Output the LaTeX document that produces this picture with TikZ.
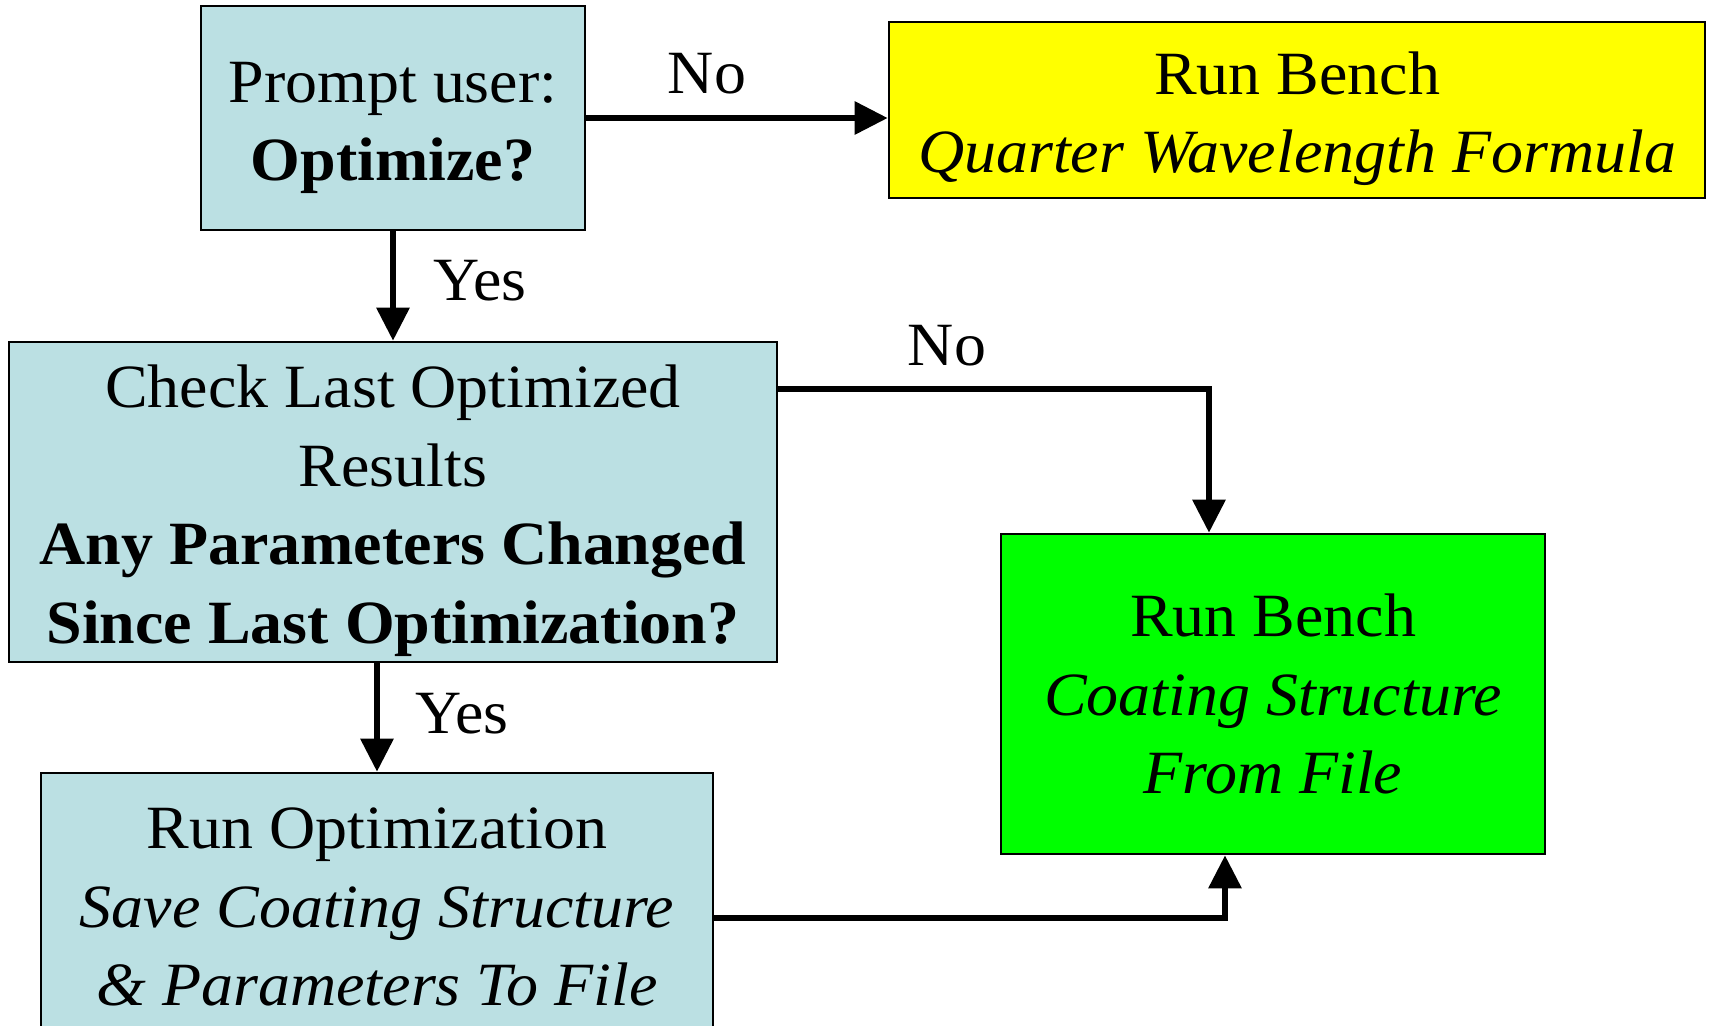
\documentclass[tikz,border=0pt]{standalone}
\usepackage{fontspec}
\setmainfont[FakeStretch=1.04]{Liberation Serif}
\usetikzlibrary{arrows.meta}
\definecolor{paleblue}{HTML}{BBE0E3}
\definecolor{brightyellow}{HTML}{FFFF00}
\definecolor{brightgreen}{HTML}{00FF00}
% taller first line, pushes a text block down inside its box
\newcommand{\topstrut}{\rule{0pt}{30pt}}
\begin{document}
\begin{tikzpicture}[x=0.5pt,y=-0.5pt,
  txt/.style={font=\fontsize{30.75}{39.25}\selectfont},
  box/.style={txt,draw=black,line width=1.3pt,align=center,inner sep=0pt},
  arr/.style={line width=3pt,-{Triangle[length=16.5pt,width=16pt]}},
  lbl/.style={txt,inner sep=0pt}]
\useasboundingbox (0,0) rectangle (1710,1025);
\clip (0,0) rectangle (1710,1025);

% process boxes
\node[box,fill=paleblue,minimum width=192pt,minimum height=112pt] (prompt) at (393,118)
  {\topstrut Prompt user:\\\textbf{Optimize?}};
\node[box,fill=brightyellow,minimum width=408pt,minimum height=88pt] (quarter) at (1297,110)
  {\topstrut Run Bench\\\textit{Quarter Wavelength Formula}};
\node[box,fill=paleblue,minimum width=384pt,minimum height=160pt] (check) at (393,502)
  {\topstrut Check Last Optimized\\Results\\\textbf{Any Parameters Changed}\\\textbf{Since Last Optimization?}};
\node[box,fill=brightgreen,minimum width=272pt,minimum height=160pt] (fromfile) at (1273,694)
  {Run Bench\\\textit{Coating Structure}\\\textit{From File}};
\node[box,fill=paleblue,minimum width=336pt,minimum height=134pt] (optim) at (377,907)
  {Run Optimization\\\textit{Save Coating Structure}\\\textit{\& Parameters To File}};

% bend points of the elbow connectors
\coordinate (k1) at (1209,389);
\coordinate (k2) at (1225,918);

% connectors
\draw[arr] (prompt.east) -- (prompt.east -| quarter.west);
\draw[arr] (prompt.south) -- (check.north);
\draw[arr] (check.east |- k1) -| (fromfile.north -| k1);
\draw[arr] (check.south -| optim.north) -- (optim.north);
\draw[arr] (optim.east |- k2) -| (fromfile.south -| k2);

% branch labels
\node[lbl] (no1) at (707,74) {No};
\node[lbl] (yes1) at (480,281) {Yes};
\node[lbl] (no2) at (947,346) {No};
\node[lbl] (yes2) at (462,714) {Yes};
\end{tikzpicture}
\end{document}
